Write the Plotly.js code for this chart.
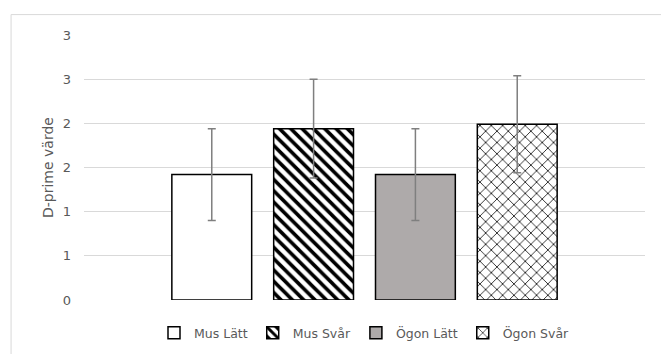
<!DOCTYPE html>
<html>
<head>
<meta charset="utf-8">
<script src="https://cdn.plot.ly/plotly-3.0.1.min.js"></script>
<style>html,body{margin:0;padding:0;background:#fff;}#chart{width:661px;height:354px;}</style>
</head>
<body>
<div id="chart"></div>
<script>
// Data
const seriesNames = ["Mus Lätt", "Mus Svår", "Ögon Lätt", "Ögon Svår"];
const category = [""];
const meanValues = [1.42, 1.94, 1.42, 1.99];
const errorValues = [0.52, 0.56, 0.52, 0.55];
const yTickValues = [0, 0.5, 1, 1.5, 2, 2.5, 3];
const yTickLabels = ["0", "1", "1", "2", "2", "3", "3"];
const yTitle = "D-prime värde";

// Styles
const fills = [
  {color: "#ffffff", pattern: {shape: ""}},
  {color: "#ffffff", pattern: {shape: "\\", fgcolor: "#000000", bgcolor: "#ffffff", size: 8, solidity: 0.45}},
  {color: "#aeaaaa", pattern: {shape: ""}},
  {color: "#ffffff", pattern: {shape: "x", fgcolor: "#2a2a2a", bgcolor: "#ffffff", size: 8, solidity: 0.22}}
];

const FONT = "DejaVu Sans, Liberation Sans, sans-serif";
const TXT = "#595959";

const traces = seriesNames.map((name, i) => ({
  type: "bar",
  name: name,
  x: category,
  y: [meanValues[i]],
  error_y: {type: "data", array: [errorValues[i]], visible: true, color: "#7f7f7f", thickness: 1.5, width: 4},
  marker: {color: fills[i].color, pattern: fills[i].pattern, line: {color: "#000000", width: 1.5}},
  hoverinfo: "skip"
}));

const layout = {
  width: 661, height: 354,
  margin: {l: 84, r: 16, t: 35, b: 54, autoexpand: false},
  paper_bgcolor: "#ffffff", plot_bgcolor: "#ffffff",
  barmode: "group",
  bargap: 0.274,
  bargroupgap: 0.216,
  showlegend: true,
  font: {family: FONT, size: 12.5, color: TXT},
  xaxis: {showticklabels: false, showgrid: false, zeroline: false, showline: false, ticks: "", fixedrange: true},
  yaxis: {
    range: [0, 3], tickmode: "array", tickvals: yTickValues, ticktext: yTickLabels,
    showgrid: true, gridcolor: "#d9d9d9", gridwidth: 1, zeroline: false, showline: false,
    ticks: "", ticklabelstandoff: 12,
    tickfont: {family: FONT, size: 13, color: TXT},
    title: {text: yTitle, font: {family: FONT, size: 14, color: TXT}, standoff: 5}
  },
  legend: {
    orientation: "h", x: 0.5, xanchor: "center", y: -0.125, yanchor: "middle",
    font: {family: FONT, size: 12.5, color: TXT},
    itemwidth: 30, traceorder: "normal"
  },
  shapes: [
    {type: "line", xref: "paper", yref: "paper", x0: -0.130, x1: 1.03, y0: 1.077, y1: 1.077, line: {color: "#d9d9d9", width: 1}},
    {type: "line", xref: "paper", yref: "paper", x0: -0.130, x1: -0.130, y0: 1.077, y1: -0.21, line: {color: "#d9d9d9", width: 1}}
  ]
};

Plotly.newPlot("chart", traces, layout, {displayModeBar: false, staticPlot: true});
</script>
</body>
</html>
